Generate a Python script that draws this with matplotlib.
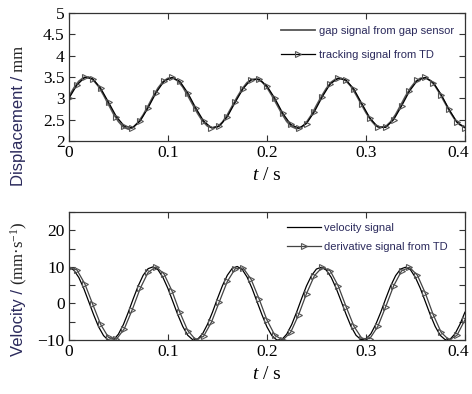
import matplotlib
matplotlib.use('Agg')
import matplotlib.pyplot as plt
import matplotlib.transforms as mtransforms
from matplotlib.ticker import MultipleLocator

plt.rcParams['font.family'] = ['Liberation Serif', 'DejaVu Serif']
plt.rcParams['mathtext.fontset'] = 'custom'
plt.rcParams['mathtext.rm'] = 'Liberation Serif'
plt.rcParams['mathtext.it'] = 'Liberation Serif:italic'
plt.rcParams['mathtext.default'] = 'regular'

NAVY = '#2b2a5c'

# ---- data ----
# sensor signals, sampled every 5 ms
t_sig = [i * 0.005 for i in range(81)]
gap = [3.04, 3.24, 3.40, 3.49, 3.50, 3.42, 3.28, 3.08, 2.86, 2.64, 2.46, 2.33, 2.28, 2.32, 2.44, 2.61, 2.82,
       3.04, 3.24, 3.39, 3.47, 3.48, 3.41, 3.27, 3.07, 2.86, 2.65, 2.47, 2.35, 2.31, 2.33, 2.44, 2.61, 2.82,
       3.03, 3.22, 3.37, 3.44, 3.45, 3.39, 3.26, 3.07, 2.86, 2.65, 2.46, 2.34, 2.29, 2.32, 2.44, 2.61, 2.83,
       3.04, 3.23, 3.38, 3.46, 3.47, 3.41, 3.28, 3.09, 2.88, 2.67, 2.49, 2.36, 2.32, 2.34, 2.45, 2.62, 2.83,
       3.05, 3.24, 3.39, 3.47, 3.48, 3.42, 3.29, 3.10, 2.89, 2.68, 2.50, 2.38, 2.33]
velocity = [9.9, 9.1, 7.1, 4.1, 0.5, -3.1, -6.4, -8.8, -10.1, -10.0, -8.4, -5.8, -2.4, 1.3, 4.8, 7.7, 9.5,
            10.0, 9.2, 7.1, 4.1, 0.5, -3.1, -6.3, -8.7, -9.9, -9.8, -8.3, -5.7, -2.4, 1.3, 4.8, 7.7, 9.6,
            10.1, 9.3, 7.2, 4.1, 0.5, -3.1, -6.4, -8.8, -10.0, -9.9, -8.4, -5.8, -2.4, 1.3, 4.8, 7.6, 9.4,
            9.9, 9.1, 7.1, 4.1, 0.6, -3.0, -6.3, -8.7, -9.9, -9.8, -8.3, -5.7, -2.4, 1.3, 4.8, 7.6, 9.4,
            9.9, 9.2, 7.1, 4.1, 0.5, -3.1, -6.3, -8.7, -9.9, -9.8, -8.3, -5.7, -2.4]

# TD outputs, sampled every 8 ms
t_td = [i * 0.008 for i in range(51)]
track = [3.00, 3.31, 3.49, 3.46, 3.24, 2.91, 2.57, 2.35, 2.31, 2.47, 2.78, 3.13, 3.40, 3.49, 3.40, 3.13,
         2.78, 2.47, 2.31, 2.35, 2.57, 2.91, 3.23, 3.44, 3.45, 3.29, 3.00, 2.65, 2.39, 2.30, 2.41, 2.69,
         3.04, 3.34, 3.47, 3.43, 3.21, 2.87, 2.54, 2.33, 2.32, 2.50, 2.82, 3.17, 3.42, 3.49, 3.37, 3.09,
         2.74, 2.44, 2.31]
deriv = [9.8, 9.2, 5.4, -0.2, -5.7, -9.3, -9.8, -6.9, -1.7, 4.1, 8.5, 10.0, 8.1, 3.5, -2.4, -7.4,
         -9.9, -9.0, -5.1, 0.5, 6.0, 9.5, 9.7, 6.6, 1.3, -4.5, -8.7, -10.0, -7.9, -3.1, 2.7, 7.6,
         9.9, 8.9, 4.8, -0.9, -6.3, -9.6, -9.6, -6.3, -0.9, 4.8, 8.9, 9.9, 7.7, 2.8, -3.1, -7.9,
         -10.0, -8.7, -4.5]

fig = plt.figure(figsize=(4.72, 3.94), dpi=100)
ax1 = fig.add_axes([0.146, 0.642, 0.839, 0.325])
ax2 = fig.add_axes([0.146, 0.137, 0.839, 0.325])

mk = dict(marker='>', markersize=5, mfc='none', mec='#555555', mew=0.8)

ax1.plot(t_sig, gap, color='#555555', lw=1.3, label='gap signal from gap sensor')
ax1.plot(t_td, track, color='black', lw=0.9, label='tracking signal from TD', **mk)
ax1.set_xlim(0, 0.4)
ax1.set_ylim(2, 5)
ax1.set_yticks([2, 2.5, 3, 3.5, 4, 4.5, 5])
ax1.set_yticklabels(['2', '2.5', '3', '3.5', '4', '4.5', '5'])

ax2.plot(t_sig, velocity, color='black', lw=0.9, label='velocity signal')
ax2.plot(t_td, deriv, color='#444444', lw=0.9, label='derivative signal from TD', **mk)
ax2.set_xlim(0, 0.4)
ax2.set_ylim(-10, 25)
ax2.yaxis.set_minor_locator(MultipleLocator(5))
ax2.set_yticks([-10, 0, 10, 20])
ax2.set_yticklabels(['\u221210', '0', '10', '20'])

# nudge the last x tick label left so it stays inside the figure
shift = mtransforms.ScaledTranslation(-7 / 100, 0, fig.dpi_scale_trans)

for ax in (ax1, ax2):
    ax.set_xticks([0, 0.1, 0.2, 0.3, 0.4])
    ax.set_xticklabels(['0', '0.1', '0.2', '0.3', '0.4'])
    ax.tick_params(which='both', direction='in', top=True, right=True, length=4,
                   width=0.8, labelsize=12.5, pad=3, color='#333333')
    for s in ax.spines.values():
        s.set_color('#333333')
        s.set_linewidth(0.9)
    ax.set_xlabel(r'$\mathit{t}$ / s', fontsize=14, labelpad=4)
    last = ax.get_xticklabels()[-1]
    last.set_transform(last.get_transform() + shift)

leg_kw = dict(frameon=False, loc='upper left', borderpad=0, borderaxespad=0,
              handlelength=3.1, handletextpad=0.3,
              prop={'family': 'Liberation Sans', 'size': 8})
l1 = ax1.legend(bbox_to_anchor=(0.535, 0.90), labelspacing=1.3, **leg_kw)
l2 = ax2.legend(bbox_to_anchor=(0.55, 0.915), labelspacing=0.85, **leg_kw)
for leg in (l1, l2):
    for txt in leg.get_texts():
        txt.set_color(NAVY)

# y labels: sans part in navy, unit part in serif
y1 = fig.text(19 / 472, 1 - 186 / 394, 'Displacement /', rotation=90, ha='center', va='bottom',
              family='Liberation Sans', fontsize=12, color=NAVY)
fig.canvas.draw()
plt.annotate(' mm', xy=(0.5, 1), xycoords=y1, rotation=90, ha='center', va='bottom',
             fontsize=12, color='#222222', annotation_clip=False)
y2 = fig.text(19 / 472, 1 - 356 / 394, 'Velocity /', rotation=90, ha='center', va='bottom',
              family='Liberation Sans', fontsize=12, color=NAVY)
fig.canvas.draw()
plt.annotate(' (mm\u00b7s$^{-1}$)', xy=(0.5, 1), xycoords=y2, rotation=90, ha='center', va='bottom',
             fontsize=12, color='#222222', annotation_clip=False)

fig.savefig('out.png', dpi=100)
